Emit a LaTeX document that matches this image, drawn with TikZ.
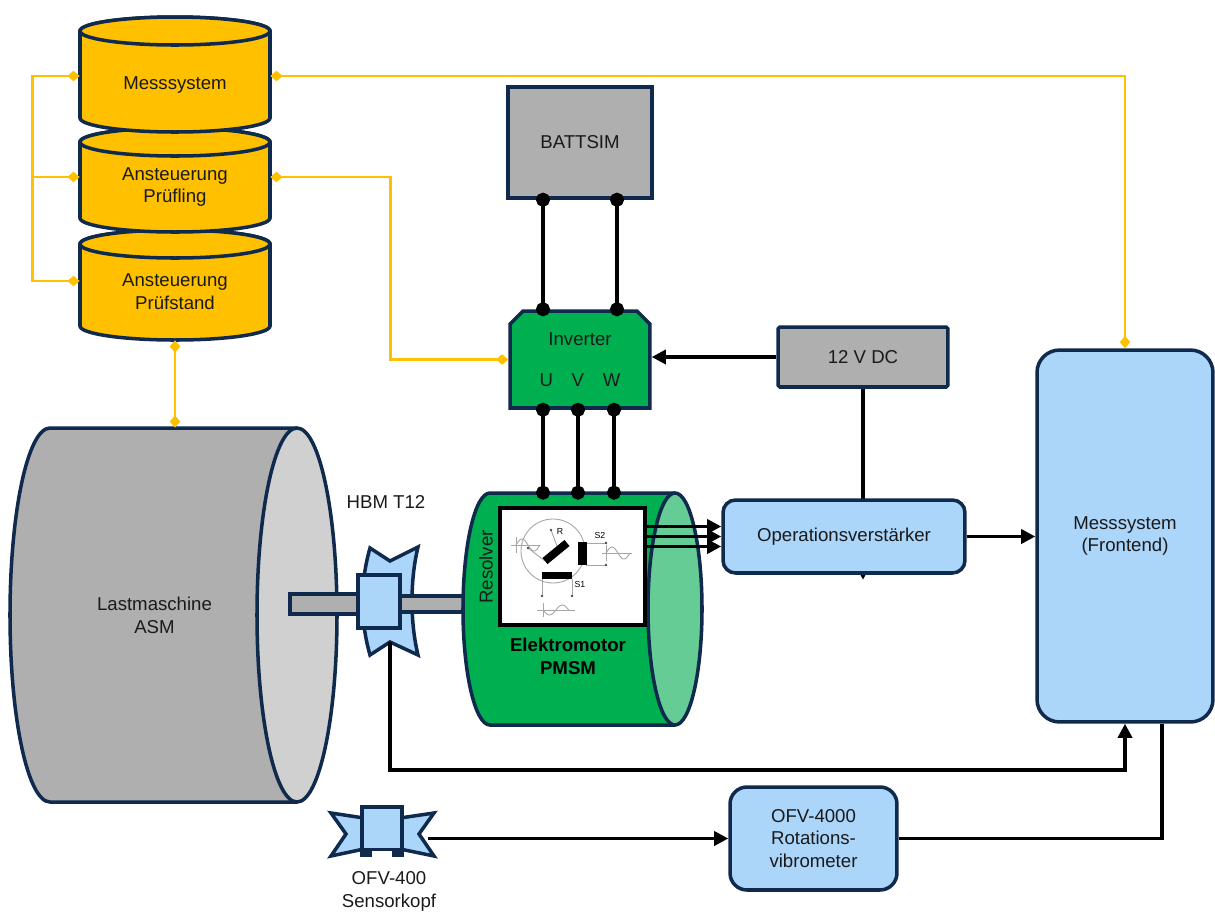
\documentclass[tikz,border=0pt]{standalone}
\usepackage{fontspec}
\setmainfont{Liberation Sans}
\usepackage{tikz}
\usetikzlibrary{arrows.meta,calc,backgrounds,shapes.misc}
\definecolor{navyline}{HTML}{0F2A4C}
\definecolor{ctrlyellow}{HTML}{FFC000}
\definecolor{pmsmgreen}{HTML}{00B050}
\definecolor{pmsmface}{HTML}{66CC96}
\definecolor{machgray}{HTML}{AFAFAF}
\definecolor{machface}{HTML}{D0D0D0}
\definecolor{measblue}{HTML}{ACD5FA}
\definecolor{inkgray}{HTML}{1A1A1A}

\begin{document}
\begin{tikzpicture}[
    x=0.02cm, y=-0.02cm,
    every node/.style={font=\fontsize{10.6}{13}\selectfont, text=inkgray, align=center},
    outline/.style={draw=navyline, line width=2pt},
    block/.style={outline, rectangle, fill=#1, inner sep=0pt},
    softblock/.style={block=#1, rounded corners=0.25cm},
    ghost/.style={rectangle, inner sep=0pt},
    wire/.style={draw=black, line width=1.9pt},
    sig/.style={wire, -{Triangle[length=8pt,width=8pt]}},
    pin/.style={wire, arrows={Circle[length=8pt]-Circle[length=8pt]}, shorten <=-4pt, shorten >=-4pt},
    ctrl/.style={draw=ctrlyellow, line width=1.6pt},
    tap/.style={arrows={Diamond[length=7pt,width=6pt]-Diamond[length=7pt,width=6pt]}},
    halftap/.style={arrows={Diamond[length=7pt,width=6pt]-}}
]
\useasboundingbox (0,0) rectangle (1215,914);

% load machine
\draw[outline, fill=machgray] (297,428) -- (50,428) arc[start angle=-90, end angle=-270, x radius=40, y radius=187] -- (297,802);
\draw[outline, fill=machface] (297,615) ellipse[x radius=40, y radius=187];
\node[ghost, minimum width=5.7cm, minimum height=7.48cm] (asm) at (154.5,615) {Lastmaschine\\ASM};

% torque flange + shafts
\draw[outline, fill=measblue] (370,548) -- (390,561) -- (418,547) .. controls (410,580) and (410,622) .. (418,655)
    -- (390,642) -- (370,655) .. controls (360,620) and (360,583) .. (370,548) -- cycle;
\draw[outline, fill=machgray] (290,594) rectangle (362,614);
\draw[outline, fill=machgray] (398,596) rectangle (470,612);
\node[block=measblue, minimum width=0.84cm, minimum height=1.06cm] (hbm) at (379,601.5) {};
\coordinate (hbmfoot) at (390,642);
\node (hbmlabel) at (386,502) {HBM T12};

% PMSM
\draw[outline, fill=pmsmgreen] (675,493) -- (490,493) arc[start angle=-90, end angle=-270, x radius=27, y radius=116] -- (675,725);
\draw[outline, fill=pmsmface] (675,609) ellipse[x radius=27, y radius=116];
\node[ghost, minimum width=4.24cm, minimum height=4.64cm] (motor) at (569,609) {};
\node[ghost, draw=black, line width=1.8pt, fill=white, minimum width=2.9cm, minimum height=2.34cm] (resolver) at (572.5,566.5) {};
\node[rotate=90] (resolvertxt) at (486,567) {Resolver};
\node[font=\bfseries\fontsize{10.6}{13}\selectfont, text=black] (pmsm) at (568,656) {Elektromotor\\PMSM};

% resolver sketch
\begin{scope}[draw=black!35, line width=0.5pt]
  \draw (553,551) circle[radius=32];
  \draw (528,548) -- (545,561) (551,530) -- (557,546);
  \draw (586,543) -- (606,543) (586,565) -- (606,565);
  \draw (542,579) -- (542,596) (572,579) -- (572,596);
  \draw (511,545) -- (540,545) (516,537) -- (516,553);
  \draw plot[domain=0:24, samples=25] ({516+\x},{545-6*sin(15*\x)});
  \draw (602,553) -- (632,553) (606,545) -- (606,561);
  \draw plot[domain=0:24, samples=25] ({606+\x},{553-6*sin(15*\x)});
  \draw (537,610) -- (575,610) (543,603) -- (543,617);
  \draw plot[domain=0:26, samples=25] ({543+\x},{610+5*sin(14*\x)});
\end{scope}
\foreach \p in {(551,530),(528,548),(606,543),(606,565),(542,596),(572,596)}
  \fill[black!70] \p circle[radius=1.4];
\draw[line width=4.5pt] (545,561) -- (567,543);
\fill (578,542) rectangle (587,565);
\fill (542,572) rectangle (572,579);
\begin{scope}[every node/.style={font=\fontsize{5}{6}\selectfont, text=black}]
  \node (lblR) at (560,531) {R};
  \node (lblS2) at (600,535) {S2};
  \node (lblS1) at (580,584) {S1};
\end{scope}

% control stack, bottom drum first so the upper one covers its lid
\foreach \yt/\yb in {244/326, 142/218, 31/118} {
  \draw[outline, fill=ctrlyellow] (80,\yt) -- (80,\yb) arc[start angle=180, end angle=0, x radius=95, y radius=14]
      -- (270,\yt) arc[start angle=0, end angle=-180, x radius=95, y radius=14] -- cycle;
  \draw[outline, fill=ctrlyellow] (175,\yt) ellipse[x radius=95, y radius=14];
}
\node[ghost, minimum width=3.8cm, minimum height=1.9cm] (drum1) at (175,85) {Messsystem};
\node[ghost, minimum width=3.8cm, minimum height=1.8cm] (drum2) at (175,187) {Ansteuerung\\Prüfling};
\node[ghost, minimum width=3.8cm, minimum height=1.92cm] (drum3) at (175,292) {Ansteuerung\\Prüfstand};

% boxes
\node[block=machgray, minimum width=2.88cm, minimum height=2.22cm] (battsim) at (580,142.5) {BATTSIM};
\node[block=pmsmgreen, chamfered rectangle, chamfered rectangle corners={north west,north east},
      chamfered rectangle xsep=0.13cm, chamfered rectangle ysep=0.13cm,
      minimum width=2.8cm, minimum height=1.94cm] (inverter) at (580,359.5) {Inverter\\[10pt]U\hspace{1em}V\hspace{1em}W};
\node[block=machgray, rounded corners=1pt, minimum width=3.4cm, minimum height=1.2cm] (dc) at (863,357) {12 V DC};
\node[softblock=measblue, minimum width=4.84cm, minimum height=1.46cm] (opamp) at (844,536.5) {Operationsverstärker};
\node[softblock=measblue, rounded corners=0.45cm, minimum width=3.52cm, minimum height=7.44cm] (frontend) at (1125,536) {Messsystem\\(Frontend)};
\node[softblock=measblue, rounded corners=0.34cm, minimum width=3.34cm, minimum height=2.06cm] (vibro) at (813.5,838.5) {OFV-4000\\Rotations-\\vibrometer};

% sensor head
\draw[outline, fill=measblue] (331,813) -- (364,818) -- (400,818) -- (434,813) -- (419,834) -- (434,856)
    -- (400,849) -- (364,849) -- (331,856) -- (346,834) -- cycle;
\node[block=measblue, minimum width=0.8cm, minimum height=0.88cm] (head) at (382,829) {};
\fill[navyline] (360,848) rectangle (404,857);
\fill[white] (372,851) rectangle (392,858);
\coordinate (headtip) at (428,838.5);
\node (headlabel) at (389,891) {OFV-400\\Sensorkopf};

% power and signal wiring
\coordinate (colU) at (543,0);
\coordinate (colV) at (578,0);
\coordinate (colW) at (614,0);
\coordinate (colB) at (617,0);
\foreach \c in {colU,colB}
  \draw[pin] (battsim.south -| \c) -- (inverter.north -| \c);
\foreach \c in {colU,colV,colW}
  \draw[pin] (inverter.south -| \c) -- (motor.north -| \c);
\draw[sig] (dc.west) -- (dc.west -| inverter.east);
\begin{scope}[on background layer]
  \draw[sig] (dc.south) -- ([yshift=-1mm]opamp.south -| dc.south);
\end{scope}
\foreach \dy in {2mm,0mm,-2mm}
  \draw[sig] ([yshift=\dy]opamp.west -| resolver.east) -- ([yshift=\dy]opamp.west);
\draw[sig] (opamp.east) -- (opamp.east -| frontend.west);
\draw[sig] (hbmfoot) -- ++(0,128) -| (frontend.south);
\draw[sig] (headtip) -- (headtip -| vibro.west);
\draw[wire] (vibro.east) -| ([xshift=0.74cm]frontend.south);

% control lines
\draw[ctrl, tap] ([yshift=1.8mm]drum1.east) -| (frontend.north);
\draw[ctrl, tap] ([yshift=2mm]drum2.east) -- ++(120,0) |- (inverter.west);
\draw[ctrl, tap] ([yshift=1.8mm]drum1.west) -- ++(-47,0) |- ([yshift=2.2mm]drum3.west);
\draw[ctrl, halftap] ([yshift=2mm]drum2.west) -- ++(-47,0);
\draw[ctrl, tap] (drum3.south) -- (drum3.south |- asm.north);
\end{tikzpicture}
\end{document}
